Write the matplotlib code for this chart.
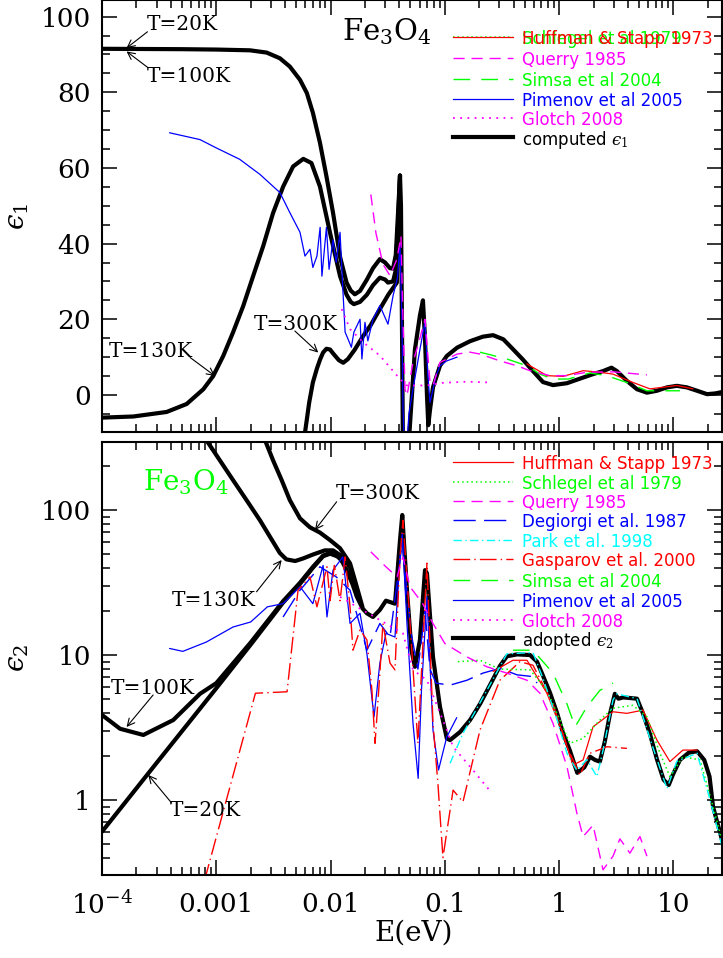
import numpy as np
import matplotlib
matplotlib.use("Agg")
import matplotlib.pyplot as plt
from matplotlib.ticker import MultipleLocator, LogLocator, NullFormatter, FixedLocator, FixedFormatter

plt.rcParams['font.family'] = ['DejaVu Serif']
plt.rcParams['mathtext.fontset'] = 'dejavuserif'

RED, GREEN, MAGENTA, BLUE, CYAN = '#ff0000', '#00ff00', '#ff00ff', '#0000ff', '#00ffff'
EPS = '\u03f5'  # lunate epsilon as in the original figure

# ---------------- top panel: eps_1 (E [eV], eps_1) ----------------
e1_low_T = [(1e-4, 91.5), (5e-4, 91.4), (1e-3, 91.3), (1.97e-3, 91.1), (2.76e-3, 90.5), (3.6e-3, 89.0),
            (4.4e-3, 86.8), (5.4e-3, 83.3), (6.2e-3, 79.8), (7.0e-3, 74.6), (8.07e-3, 66.7), (9.2e-3, 57.8),
            (0.0105, 48.2), (0.0121, 36.5), (0.0138, 29.7), (0.0150, 27.6), (0.0163, 26.6), (0.0181, 27.5),
            (0.0208, 30.5), (0.0235, 33.5), (0.027, 35.9), (0.030, 35.0), (0.0331, 33.5), (0.0352, 33.4),
            (0.0372, 37.0), (0.0389, 48.0), (0.0405, 58.0), (0.0413, 50.0), (0.0421, 20.0), (0.0430, -15.0),
            (0.0448, -60.0), (0.0466, -40.0), (0.0485, -12.0), (0.0547, 12.0), (0.0605, 21.0), (0.0643, 25.0),
            (0.0670, 15.0), (0.0697, 0.0), (0.0716, -8.0), (0.0741, -4.0), (0.0787, 2.0), (0.0906, 7.7),
            (0.104, 10.3), (0.128, 12.5), (0.166, 14.2), (0.215, 15.4), (0.264, 15.8), (0.325, 14.7),
            (0.394, 12.1), (0.48, 9.4), (0.59, 6.3), (0.722, 3.4), (0.883, 2.6), (1.17, 3.1), (1.52, 4.3),
            (1.98, 5.5), (2.42, 6.3), (2.87, 7.2), (3.2, 6.3), (3.92, 3.7), (4.8, 1.5), (5.86, 0.6),
            (7.17, 1.1), (8.78, 2.0), (10.7, 2.4), (13.1, 2.0), (16.1, 1.1), (19.7, 0.2), (23.2, 0.4),
            (27.0, 0.8)]
e1_130K = [(1e-4, -6.0), (1.88e-4, -5.7), (3.68e-4, -4.5), (5.5e-4, -2.4), (7.7e-4, 1.5), (9.4e-4, 5.0),
           (1.15e-3, 10.3), (1.4e-3, 16.5), (1.72e-3, 23.5), (2.1e-3, 31.4), (2.57e-3, 39.3), (3.14e-3, 48.1),
           (3.85e-3, 55.1), (4.7e-3, 60.4), (5.77e-3, 62.4), (6.8e-3, 61.3), (8.07e-3, 55.1), (9.9e-3, 42.8),
           (0.0121, 31.4), (0.0138, 26.5), (0.0150, 24.6), (0.0160, 24.0), (0.0181, 24.6), (0.0208, 26.5),
           (0.0235, 29.0), (0.027, 31.0), (0.030, 30.5), (0.0318, 29.7), (0.0352, 30.0), (0.0372, 33.0),
           (0.0389, 45.0), (0.0405, 58.0)]
e1_300K = [(5.6e-3, -20.0), (5.97e-3, -10.0), (6.5e-3, -2.0), (7.0e-3, 3.3), (7.6e-3, 7.0), (8.1e-3, 9.4),
           (8.6e-3, 11.2), (9.2e-3, 12.2), (9.9e-3, 12.0), (0.0105, 11.0), (0.0118, 9.2), (0.0129, 8.5),
           (0.0142, 9.5), (0.0163, 12.0), (0.0193, 15.6), (0.0225, 18.5), (0.027, 22.7), (0.032, 26.5),
           (0.038, 29.7), (0.0405, 58.0)]
e1_pimenov = [(3.9e-4, 69.3), (7.2e-4, 67.5), (1e-3, 65.3), (1.6e-3, 62.3), (2.41e-3, 58.3), (3.6e-3, 53.5),
              (4.4e-3, 48.2), (5.4e-3, 43.0), (5.97e-3, 36.7), (6.6e-3, 38.5), (7.0e-3, 33.7), (7.6e-3, 36.7),
              (8.1e-3, 44.3), (8.4e-3, 31.4), (9.2e-3, 44.3), (9.7e-3, 33.2), (0.0105, 41.0), (0.0112, 35.0),
              (0.0121, 43.0), (0.0128, 28.0), (0.0134, 16.6), (0.0142, 14.8), (0.0152, 12.6), (0.016, 16.6),
              (0.0181, 20.0), (0.0188, 9.5), (0.020, 19.2), (0.0212, 14.3), (0.0235, 20.0), (0.027, 23.6),
              (0.0318, 18.7), (0.0352, 26.2), (0.0385, 31.0), (0.0405, 40.0), (0.0421, 20.0), (0.0430, -3.0),
              (0.0448, -20.0), (0.0485, -5.0), (0.0526, 1.6), (0.0605, 12.0), (0.067, 19.3), (0.0711, 5.0),
              (0.0741, -2.0), (0.0836, 5.0), (0.0906, 7.7), (0.104, 9.0), (0.128, 10.0)]
e1_querry = [(0.0225, 53.0), (0.0249, 42.9), (0.0287, 34.6), (0.0331, 31.5), (0.0381, 35.9), (0.0413, 42.0),
             (0.0430, 20.0), (0.0448, 1.6), (0.0466, -0.2), (0.0526, 8.6), (0.0605, 15.0), (0.067, 20.0),
             (0.0741, 3.3), (0.0787, 2.5), (0.0906, 8.6), (0.128, 10.8), (0.166, 11.3), (0.203, 10.8),
             (0.303, 9.0), (0.428, 7.7), (0.556, 6.4), (0.831, 5.1), (1.17, 5.1), (1.75, 6.0), (3.0, 6.1),
             (5.86, 5.3)]
e1_glotch = [(0.0125, 22.7), (0.0148, 17.4), (0.0193, 13.9), (0.027, 10.4), (0.0405, 4.2), (0.0466, 2.5),
             (0.0697, 2.5), (0.0962, 3.2), (0.156, 3.5), (0.245, 3.3)]
e1_simsa = [(0.203, 11.3), (0.349, 9.5), (0.523, 7.7), (0.679, 5.5), (0.883, 4.2), (1.2, 4.2), (1.86, 5.8),
            (2.6, 5.1), (3.9, 3.3), (5.86, 1.1), (7.62, 1.1), (11.4, 1.1)]
e1_huffman = [(0.523, 8.2), (0.782, 5.1), (1.08, 4.9), (1.62, 6.4), (2.27, 6.0), (2.96, 5.5), (4.42, 3.3),
              (6.23, 1.6), (10.7, 2.5), (14.8, 1.6)]

# ---------------- bottom panel: eps_2 (E [eV], eps_2) ----------------
e2_20K = [(1e-4, 0.605), (3e-4, 1.8), (1e-3, 5.9), (2e-3, 11.8), (3.84e-3, 23.0), (5.4e-3, 31.0),
          (7.0e-3, 40.0), (8.6e-3, 48.0), (0.0099, 50.0), (0.0114, 48.0), (0.0123, 46.0), (0.0138, 38.5),
          (0.0155, 31.0), (0.017, 25.2), (0.019, 21.0), (0.0208, 19.4), (0.0235, 18.3), (0.027, 20.5),
          (0.0305, 23.7), (0.0366, 22.6), (0.0405, 62.0), (0.0424, 92.4), (0.0466, 28.0), (0.0510, 10.8),
          (0.0547, 8.3), (0.0605, 12.7), (0.067, 38.5), (0.0697, 36.7), (0.0787, 9.7), (0.0906, 4.4),
          (0.104, 2.66), (0.111, 2.59), (0.136, 2.95), (0.166, 3.56), (0.203, 4.6), (0.248, 6.2),
          (0.303, 8.4), (0.349, 9.8), (0.428, 10.1), (0.556, 10.0), (0.64, 9.0), (0.722, 7.2), (0.831, 5.5),
          (0.957, 4.0), (1.08, 2.9), (1.24, 2.2), (1.44, 1.54), (1.66, 1.68), (1.86, 1.99), (2.06, 1.89),
          (2.27, 1.84), (2.5, 2.5), (2.78, 3.9), (3.07, 5.4), (3.3, 5.0), (3.64, 5.1), (4.8, 5.0),
          (5.41, 3.96), (6.23, 2.85), (7.17, 1.91), (8.2, 1.38), (9.1, 1.27), (9.9, 1.5), (11.4, 1.89),
          (13.6, 2.12), (16.1, 2.17), (18.6, 1.89), (20.7, 1.45), (22.2, 0.9), (26.6, 0.53)]
e2_100K = [(1e-4, 3.86), (1.44e-4, 3.1), (2.3e-4, 2.81), (4.2e-4, 3.56), (7.2e-4, 5.4), (1e-3, 6.4),
           (2e-3, 12.2), (3.84e-3, 23.5), (5.4e-3, 31.5), (7.0e-3, 40.5), (8.6e-3, 48.5), (0.0099, 50.5),
           (0.0114, 48.5), (0.0134, 42.0)]
e2_130K = [(7.5e-4, 340.0), (8.2e-4, 303.0), (1.4e-3, 161.0), (1.84e-3, 117.0), (2.41e-3, 85.0), (2.96e-3, 65.1),
           (3.6e-3, 50.5), (4.1e-3, 45.7), (4.9e-3, 44.5), (5.77e-3, 46.4), (7.0e-3, 49.3), (8.9e-3, 52.7),
           (0.0105, 52.7), (0.0128, 47.5), (0.0148, 40.0), (0.017, 25.5)]
e2_300K = [(2.5e-3, 340.0), (2.67e-3, 303.0), (3.14e-3, 220.0), (3.73e-3, 161.0), (4.4e-3, 117.0), (5.4e-3, 87.6),
           (6.6e-3, 76.0), (8.07e-3, 69.9), (9.9e-3, 62.0), (0.0121, 54.5), (0.0148, 42.9), (0.0163, 33.0),
           (0.019, 21.5)]
e2_pimenov = [(3.9e-4, 11.1), (5.1e-4, 10.6), (8.2e-4, 12.3), (1.4e-3, 15.6), (2.0e-3, 16.9), (2.8e-3, 21.5),
              (3.84e-3, 22.6), (5.4e-3, 29.6), (7.0e-3, 22.6), (8.6e-3, 41.5), (9.3e-3, 18.3), (0.0105, 38.5),
              (0.0128, 47.5), (0.0148, 16.5), (0.0181, 19.4), (0.0208, 10.2), (0.024, 3.75), (0.027, 8.8),
              (0.0305, 14.1), (0.0366, 13.3), (0.0405, 47.5), (0.0424, 69.0), (0.0466, 16.5), (0.0526, 3.4),
              (0.0584, 1.41), (0.0624, 5.7), (0.0697, 25.2), (0.0787, 3.04), (0.088, 1.61), (0.104, 2.73),
              (0.127, 3.7)]
e2_degiorgi = [(3.84e-3, 18.3), (5.4e-3, 28.0), (8.07e-3, 40.6), (0.0112, 34.6), (0.0148, 28.0), (0.0208, 10.8),
               (0.027, 16.5), (0.0331, 13.3), (0.0405, 45.0), (0.0424, 60.0), (0.05, 15.0), (0.0581, 8.0),
               (0.067, 20.0), (0.0741, 8.0), (0.0836, 6.4), (0.111, 6.2), (0.156, 6.7), (0.215, 7.5),
               (0.303, 8.1), (0.428, 7.3), (0.59, 7.1), (0.64, 6.4)]
e2_gasparov = [(7.9e-4, 0.28), (2.2e-3, 5.45), (4.16e-3, 5.58), (5.19e-3, 28.0), (6.6e-3, 34.6), (7.6e-3, 21.5),
               (9.3e-3, 40.6), (9.9e-3, 23.7), (0.0108, 41.5), (0.0121, 23.7), (0.0134, 47.5), (0.0148, 21.5),
               (0.0157, 10.8), (0.0181, 14.9), (0.0208, 12.7), (0.023, 5.7), (0.0245, 2.46), (0.027, 7.5),
               (0.0287, 16.5), (0.0331, 8.8), (0.0366, 7.9), (0.0405, 47.5), (0.043, 85.0), (0.0485, 21.5),
               (0.0581, 2.46), (0.0697, 43.0), (0.0787, 3.4), (0.0871, 1.27), (0.0962, 0.4), (0.118, 1.17),
               (0.144, 0.97), (0.203, 3.04), (0.303, 6.7), (0.454, 9.0), (0.59, 8.5), (0.883, 4.6), (1.17, 2.33),
               (1.52, 1.49), (1.86, 2.1), (2.62, 2.33), (3.92, 2.27)]
e2_huffman = [(0.264, 7.7), (0.394, 9.2), (0.523, 9.2), (0.782, 5.45), (1.08, 2.88), (1.32, 1.74), (1.62, 1.89),
              (1.98, 3.2), (2.96, 4.06), (3.92, 3.96), (5.41, 4.17), (7.17, 2.59), (9.32, 1.84), (12.1, 2.21),
              (16.1, 2.21)]
e2_schlegel = [(0.13, 9.0), (0.203, 9.2), (0.303, 8.0), (0.556, 7.9), (0.782, 5.7), (1.016, 3.56), (1.24, 2.46),
               (1.62, 2.66), (2.27, 3.56), (2.96, 4.3), (4.42, 4.5), (5.86, 3.75), (7.62, 2.1), (9.32, 1.45),
               (12.1, 1.99), (17.1, 1.89), (22.2, 0.9), (26.6, 0.53)]
e2_park = [(0.111, 1.79), (0.144, 2.88), (0.233, 5.7), (0.349, 10.2), (0.59, 10.4), (0.722, 6.9), (0.957, 3.6),
           (1.17, 2.1), (1.43, 1.6), (1.75, 1.9), (2.14, 1.45), (2.42, 2.2), (2.96, 4.9), (3.2, 5.4), (4.8, 5.0),
           (6.62, 2.3), (8.78, 1.2), (10.7, 1.85), (16.1, 2.1), (20.9, 1.0), (26.6, 0.48)]
e2_simsa = [(0.394, 10.8), (0.59, 10.8), (0.883, 7.5), (1.17, 4.6), (1.38, 3.2), (1.75, 4.4), (2.27, 5.7),
            (2.96, 6.4)]
e2_querry = [(0.0225, 51.5), (0.0305, 40.6), (0.0381, 34.6), (0.043, 47.5), (0.0495, 29.6), (0.064, 22.6),
             (0.0787, 16.5), (0.1, 12.0), (0.156, 9.7), (0.233, 8.3), (0.349, 7.5), (0.523, 6.7), (0.679, 5.45),
             (0.883, 3.38), (1.17, 1.7), (1.43, 0.81), (1.62, 0.56), (1.98, 0.67), (2.42, 0.33), (2.96, 0.41),
             (3.4, 0.54), (4.16, 0.43), (5.09, 0.56), (5.86, 0.41)]
e2_glotch = [(0.0121, 25.2), (0.017, 21.5), (0.0345, 15.6), (0.043, 14.1), (0.0526, 7.9), (0.0697, 6.7),
             (0.104, 3.04), (0.118, 2.33), (0.176, 1.61), (0.245, 1.17)]

x_ticks = [1e-4, 1e-3, 1e-2, 0.1, 1, 10]
x_tick_labels = [r'$10^{-4}$', '0.001', '0.01', '0.1', '1', '10']

# line styles for the data sets
STYLE = {
    'huffman': dict(color=RED, ls='-', lw=0.9),
    'schlegel': dict(color=GREEN, ls=(0, (1, 2)), lw=1.1),
    'querry': dict(color=MAGENTA, ls=(0, (8, 5)), lw=1.0),
    'degiorgi': dict(color=BLUE, ls=(0, (16, 6)), lw=1.0),
    'park': dict(color=CYAN, ls=(0, (6, 2.5, 1, 2.5)), lw=1.0),
    'gasparov': dict(color=RED, ls=(0, (12, 3, 1, 3)), lw=1.0),
    'simsa': dict(color=GREEN, ls=(0, (12, 8)), lw=1.0),
    'pimenov': dict(color=BLUE, ls='-', lw=0.9),
    'glotch': dict(color=MAGENTA, ls=(0, (1, 3)), lw=1.3),
    'model': dict(color='k', ls='-', lw=3.0),
}


def draw(ax, pts, key):
    e, v = np.array(pts).T
    ax.plot(e, v, solid_joinstyle='round', solid_capstyle='round', **STYLE[key])


def arrow(ax, start, tip):
    ax.annotate('', xy=tip, xytext=start,
                arrowprops=dict(arrowstyle='->', color='k', lw=0.8, shrinkA=0, shrinkB=0, mutation_scale=13))


def style_axis(ax):
    ax.set_xscale('log')
    ax.set_xlim(1e-4, 26.6)
    ax.xaxis.set_major_locator(FixedLocator(x_ticks))
    ax.xaxis.set_minor_locator(LogLocator(base=10, subs=np.arange(2, 10), numticks=20))
    ax.xaxis.set_minor_formatter(NullFormatter())
    ax.tick_params(which='both', direction='in', top=True, right=True, width=1.1, labelsize=19)
    ax.tick_params(which='major', length=11)
    ax.tick_params(which='minor', length=6)
    for s in ax.spines.values():
        s.set_linewidth(1.5)


def draw_key(ax, rows, top_px, bot_px):
    # rows: (pixel row of the entry, label, style key, text colour)
    h = bot_px - top_px
    for py, label, key, tcol in rows:
        yf = (bot_px - py) / h
        ax.plot([0.566, 0.663], [yf, yf], transform=ax.transAxes, **STYLE[key])
        ax.text(0.677, yf, label, transform=ax.transAxes, color=tcol, family='DejaVu Sans',
                fontsize=12, va='center_baseline')


fig = plt.figure(figsize=(7.23, 9.58), dpi=100)
W, H = 723.0, 958.0
ax1 = fig.add_axes([102 / W, 1 - 432 / H, 620 / W, 432 / H])
ax2 = fig.add_axes([102 / W, 1 - 875 / H, 620 / W, (875 - 441.7) / H])

# ---- top panel ----
for pts in (e1_low_T, e1_130K, e1_300K):
    draw(ax1, pts, 'model')
draw(ax1, e1_pimenov, 'pimenov')
draw(ax1, e1_glotch, 'glotch')
draw(ax1, e1_simsa, 'simsa')
draw(ax1, e1_huffman, 'huffman')
draw(ax1, e1_querry, 'querry')

style_axis(ax1)
ax1.set_ylim(-9.8, 104.4)
ax1.yaxis.set_major_locator(MultipleLocator(20))
ax1.yaxis.set_minor_locator(MultipleLocator(5))
ax1.tick_params(labelbottom=False, pad=8)
ax1.set_ylabel('$%s_1$' % EPS, fontsize=20)
ax1.yaxis.set_label_coords(-0.115, 0.5)

ax1.text(0.0126, 93.9, r'Fe$_3$O$_4$', fontsize=21, ha='left', va='baseline')
ax1.text(5.0e-4, 97.8, 'T=20K', fontsize=14.5, ha='center', va='center')
arrow(ax1, (2.5e-4, 96.0), (1.64e-4, 91.7))
ax1.text(5.8e-4, 84.2, 'T=100K', fontsize=14.5, ha='center', va='center')
arrow(ax1, (2.53e-4, 86.5), (1.64e-4, 90.8))
ax1.text(2.68e-4, 11.6, 'T=130K', fontsize=14.5, ha='center', va='center')
arrow(ax1, (5.9e-4, 9.9), (9.75e-4, 5.0))
ax1.text(4.98e-3, 18.7, 'T=300K', fontsize=14.5, ha='center', va='center')
arrow(ax1, (4.87e-3, 16.9), (7.8e-3, 11.2))

key1 = [
    (37.3, 'Schlegel et al 1979', 'schlegel', GREEN),
    (37.3, 'Huffman & Stapp 1973', 'huffman', RED),
    (58.3, 'Querry 1985', 'querry', MAGENTA),
    (79.3, 'Simsa et al 2004', 'simsa', GREEN),
    (99.3, 'Pimenov et al 2005', 'pimenov', BLUE),
    (118.3, 'Glotch 2008', 'glotch', MAGENTA),
    (136.7, 'computed $%s_1$' % EPS, 'model', 'k'),
]
draw_key(ax1, key1, 0.0, 432.0)

# ---- bottom panel ----
for pts in (e2_20K, e2_100K, e2_130K, e2_300K):
    draw(ax2, pts, 'model')
draw(ax2, e2_pimenov, 'pimenov')
draw(ax2, e2_degiorgi, 'degiorgi')
draw(ax2, e2_gasparov, 'gasparov')
draw(ax2, e2_huffman, 'huffman')
draw(ax2, e2_schlegel, 'schlegel')
draw(ax2, e2_park, 'park')
draw(ax2, e2_simsa, 'simsa')
draw(ax2, e2_querry, 'querry')
draw(ax2, e2_glotch, 'glotch')

style_axis(ax2)
ax2.set_yscale('log')
ax2.set_ylim(0.304, 296)
ax2.yaxis.set_major_locator(FixedLocator([1, 10, 100]))
ax2.yaxis.set_major_formatter(FixedFormatter(['1', '10', '100']))
ax2.yaxis.set_minor_locator(LogLocator(base=10, subs=np.arange(2, 10), numticks=20))
ax2.yaxis.set_minor_formatter(NullFormatter())
ax2.xaxis.set_major_formatter(FixedFormatter(x_tick_labels))
ax2.tick_params(axis='x', pad=12)
ax2.tick_params(axis='y', pad=8)
ax2.set_ylabel('$%s_2$' % EPS, fontsize=20)
ax2.yaxis.set_label_coords(-0.115, 0.5)
ax2.set_xlabel('E(eV)', fontsize=20)
ax2.xaxis.set_label_coords(0.502, -0.104)

ax2.text(2.28e-4, 137, r'Fe$_3$O$_4$', fontsize=20, color=GREEN, ha='left', va='baseline')
ax2.text(0.026, 131, 'T=300K', fontsize=14.5, ha='center', va='center')
arrow(ax2, (0.0113, 114), (7.3e-3, 72.8))
ax2.text(9.55e-4, 23.9, 'T=130K', fontsize=14.5, ha='center', va='center')
arrow(ax2, (2.25e-3, 27.3), (3.73e-3, 45.2))
ax2.text(2.77e-4, 5.92, 'T=100K', fontsize=14.5, ha='center', va='center')
arrow(ax2, (2.8e-4, 5.3), (1.64e-4, 3.19))
ax2.text(7.96e-4, 0.853, 'T=20K', fontsize=14.5, ha='center', va='center')
arrow(ax2, (4.07e-4, 0.953), (2.54e-4, 1.49))

key2_labels = ['Huffman & Stapp 1973', 'Schlegel et al 1979', 'Querry 1985', 'Degiorgi et al. 1987',
               'Park et al. 1998', 'Gasparov et al. 2000', 'Simsa et al 2004', 'Pimenov et al 2005',
               'Glotch 2008', 'adopted $%s_2$' % EPS]
key2_styles = ['huffman', 'schlegel', 'querry', 'degiorgi', 'park', 'gasparov', 'simsa', 'pimenov',
               'glotch', 'model']
key2_rows = [461.7, 481.7, 501.0, 520.0, 540.0, 559.0, 580.0, 600.0, 620.0, 638.3]
key2 = [(py, lab, k, STYLE[k]['color']) for py, lab, k in zip(key2_rows, key2_labels, key2_styles)]
draw_key(ax2, key2, 441.7, 875.0)

fig.savefig('out.png', dpi=100)
